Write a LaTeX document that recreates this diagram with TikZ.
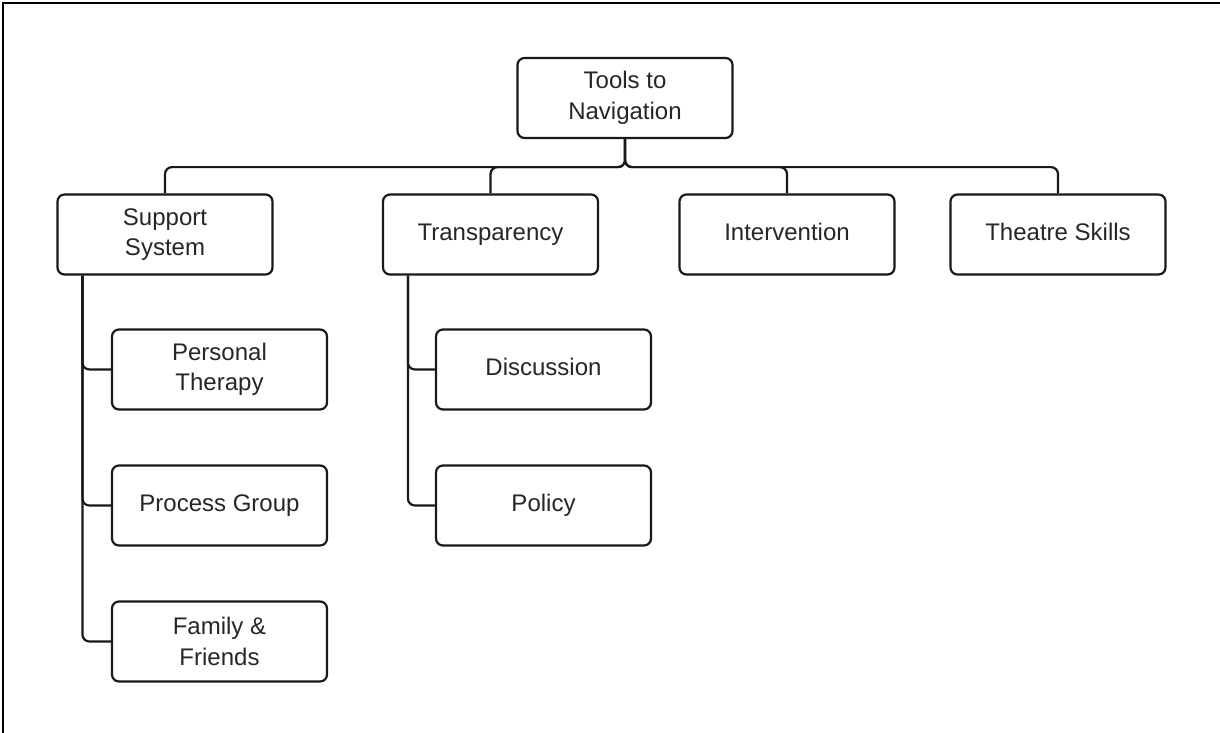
\documentclass[tikz,border=0pt]{standalone}
\usepackage{fontspec}
\setmainfont{Liberation Sans}
\begin{document}
\begin{tikzpicture}[x=1pt,y=-1pt,
  box/.style={draw=black!90, line width=2.2pt, rounded corners=7pt,
    minimum width=215pt, minimum height=80pt, align=center, inner sep=0pt,
    font=\fontsize{24}{30.5}\selectfont, text=black!85, fill=white},
  oneline/.style={execute at begin node=\strut},
  link/.style={draw=black!90, line width=2.2pt, rounded corners=7pt}]
\useasboundingbox (0,0) rectangle (1220,733);
% frame on the top and left sides
\draw[line width=2.2pt] (3,733) -- (3,3) -- (1220,3);

\node[box] (root) at (625,98) {Tools to\\Navigation};

\node[box] (ss) at (165,234.5) {Support\\System};
\node[box,oneline] (tr) at (490.5,234.5) {Transparency};
\node[box,oneline] (iv) at (787,234.5) {Intervention};
\node[box,oneline] (ts) at (1058,234.5) {Theatre Skills};

\node[box] (pt) at (219.5,369.5) {Personal\\Therapy};
\node[box,oneline] (pg) at (219.5,505.5) {Process Group};
\node[box] (ff) at (219.5,641.5) {Family \&\\Friends};

\node[box,oneline] (di) at (543.5,369.5) {Discussion};
\node[box,oneline] (po) at (543.5,505.5) {Policy};

% top-level bus
\foreach \c in {ss,tr,iv,ts}
  \draw[link] (root.south) -- ++(0,28) -| (\c.north);

% side trunks
\coordinate (ssT) at ([xshift=26pt]ss.south west);
\coordinate (trT) at ([xshift=26pt]tr.south west);
\foreach \c in {pt,pg,ff}
  \draw[link] (ssT) |- (\c.west);
\foreach \c in {di,po}
  \draw[link] (trT) |- (\c.west);
\end{tikzpicture}
\end{document}
